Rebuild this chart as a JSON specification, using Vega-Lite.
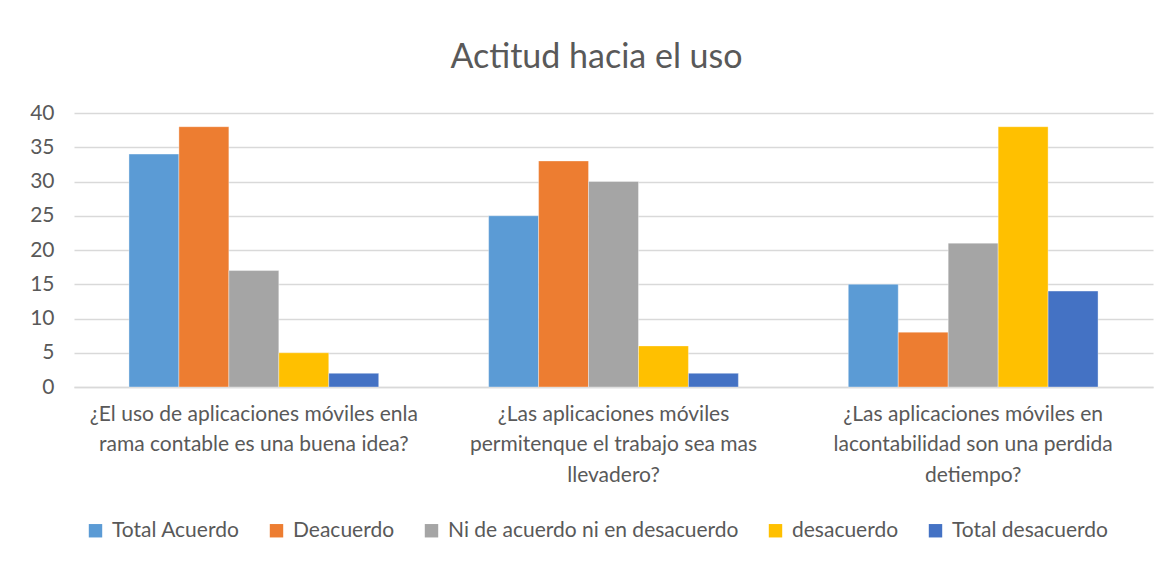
{
  "$schema": "https://vega.github.io/schema/vega-lite/v6.json",
  "autosize": "none",
  "width": 1079,
  "height": 274,
  "padding": {"left": 74, "top": 113, "right": 15, "bottom": 175},
  "background": "#ffffff",
  "title": {
    "text": "Actitud hacia el uso",
    "fontSize": 34,
    "font": "Lato",
    "fontWeight": "normal",
    "color": "#595959",
    "anchor": "middle",
    "dx": -17,
    "offset": 27
  },
  "data": {
    "values": [
      {"pregunta": "q1|¿El uso de aplicaciones móviles enla|rama contable es una buena idea?", "respuesta": "Total Acuerdo", "valor": 34},
      {"pregunta": "q1|¿El uso de aplicaciones móviles enla|rama contable es una buena idea?", "respuesta": "Deacuerdo", "valor": 38},
      {"pregunta": "q1|¿El uso de aplicaciones móviles enla|rama contable es una buena idea?", "respuesta": "Ni de acuerdo ni en desacuerdo", "valor": 17},
      {"pregunta": "q1|¿El uso de aplicaciones móviles enla|rama contable es una buena idea?", "respuesta": "desacuerdo", "valor": 5},
      {"pregunta": "q1|¿El uso de aplicaciones móviles enla|rama contable es una buena idea?", "respuesta": "Total desacuerdo", "valor": 2},
      {"pregunta": "q2|¿Las aplicaciones móviles|permitenque el trabajo sea mas|llevadero?", "respuesta": "Total Acuerdo", "valor": 25},
      {"pregunta": "q2|¿Las aplicaciones móviles|permitenque el trabajo sea mas|llevadero?", "respuesta": "Deacuerdo", "valor": 33},
      {"pregunta": "q2|¿Las aplicaciones móviles|permitenque el trabajo sea mas|llevadero?", "respuesta": "Ni de acuerdo ni en desacuerdo", "valor": 30},
      {"pregunta": "q2|¿Las aplicaciones móviles|permitenque el trabajo sea mas|llevadero?", "respuesta": "desacuerdo", "valor": 6},
      {"pregunta": "q2|¿Las aplicaciones móviles|permitenque el trabajo sea mas|llevadero?", "respuesta": "Total desacuerdo", "valor": 2},
      {"pregunta": "q3|¿Las aplicaciones móviles en|lacontabilidad son una perdida|detiempo?", "respuesta": "Total Acuerdo", "valor": 15},
      {"pregunta": "q3|¿Las aplicaciones móviles en|lacontabilidad son una perdida|detiempo?", "respuesta": "Deacuerdo", "valor": 8},
      {"pregunta": "q3|¿Las aplicaciones móviles en|lacontabilidad son una perdida|detiempo?", "respuesta": "Ni de acuerdo ni en desacuerdo", "valor": 21},
      {"pregunta": "q3|¿Las aplicaciones móviles en|lacontabilidad son una perdida|detiempo?", "respuesta": "desacuerdo", "valor": 38},
      {"pregunta": "q3|¿Las aplicaciones móviles en|lacontabilidad son una perdida|detiempo?", "respuesta": "Total desacuerdo", "valor": 14}
    ]
  },
  "mark": {"type": "bar", "stroke": "#ffffff", "strokeWidth": 0.6, "strokeOpacity": 0.6},
  "encoding": {
    "x": {
      "field": "pregunta",
      "type": "nominal",
      "sort": null,
      "scale": {"paddingInner": 0.3056, "paddingOuter": 0.1528},
      "axis": {
        "title": null,
        "labelAngle": 0,
        "labelExpr": "slice(split(datum.label, '|'), 1)",
        "labelFont": "Lato",
        "labelFontSize": 21,
        "labelColor": "#595959",
        "labelLineHeight": 30.5,
        "labelPadding": 16,
        "labelLimit": 600,
        "ticks": false,
        "domainColor": "#d9d9d9",
        "domainWidth": 1.5,
        "labelAlign": "center",
        "labelBaseline": "top"
      }
    },
    "xOffset": {
      "field": "respuesta",
      "type": "nominal",
      "sort": ["Total Acuerdo", "Deacuerdo", "Ni de acuerdo ni en desacuerdo", "desacuerdo", "Total desacuerdo"],
      "scale": {"paddingInner": 0, "paddingOuter": 0}
    },
    "y": {
      "field": "valor",
      "type": "quantitative",
      "scale": {"domain": [0, 40]},
      "axis": {
        "title": null,
        "values": [0, 5, 10, 15, 20, 25, 30, 35, 40],
        "labelFont": "Lato",
        "labelFontSize": 21,
        "labelColor": "#595959",
        "labelPadding": 20,
        "ticks": false,
        "domain": false,
        "gridColor": "#d9d9d9",
        "gridWidth": 1.5
      }
    },
    "color": {
      "field": "respuesta",
      "type": "nominal",
      "scale": {
        "domain": ["Total Acuerdo", "Deacuerdo", "Ni de acuerdo ni en desacuerdo", "desacuerdo", "Total desacuerdo"],
        "range": ["#5B9BD5", "#ED7D31", "#A5A5A5", "#FFC000", "#4472C4"]
      },
      "legend": {
        "title": null,
        "orient": "none",
        "direction": "horizontal",
        "legendX": 11,
        "legendY": 407,
        "columns": 5,
        "symbolType": "square",
        "symbolSize": 180,
        "symbolStrokeWidth": 0,
        "labelFont": "Lato",
        "labelFontSize": 21,
        "labelColor": "#595959",
        "labelOffset": 6,
        "columnPadding": 26,
        "labelLimit": 500
      }
    }
  },
  "config": {
    "view": {"stroke": null}
  }
}
